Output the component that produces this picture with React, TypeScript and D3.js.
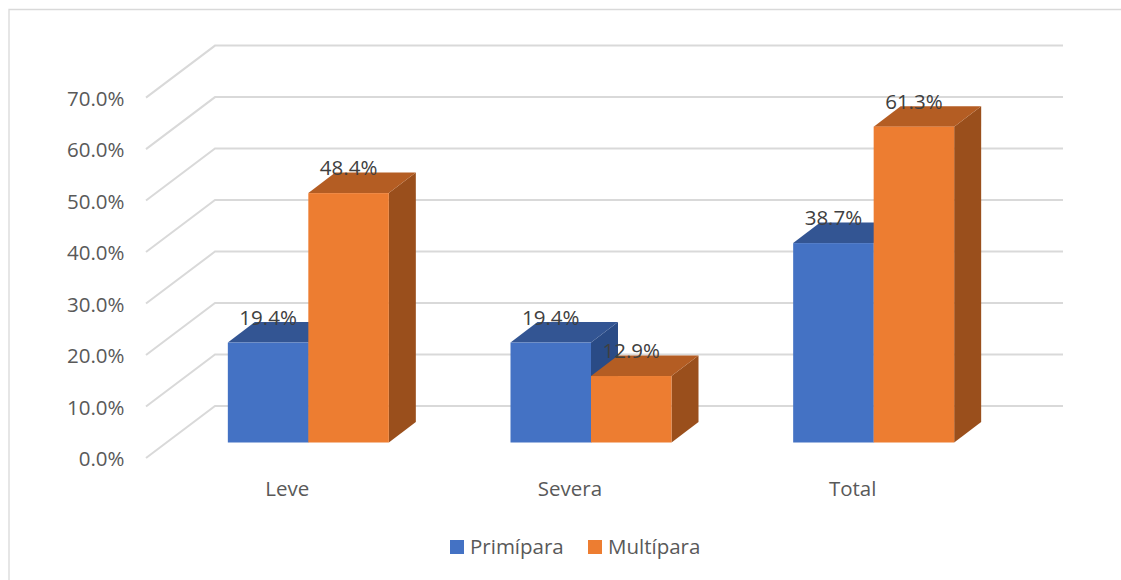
import React from "react";
import * as d3 from "d3";

const categories = ["Leve", "Severa", "Total"];
const seriesNames = ["Primípara", "Multípara"];
const primipara = [19.4, 19.4, 38.7];
const multipara = [48.4, 12.9, 61.3];
const ticks = [0, 10, 20, 30, 40, 50, 60, 70];

const colors = ["#4472C4", "#ED7D31"];
const topColors = ["#335593", "#B45D23"];
const sideColors = ["#2A4B86", "#9A4F1C"];
const FONT = "'Open Sans', sans-serif";
const FS = 20.5;

const W = 1121, H = 580;
const depth = { dx: 69, dy: 52 };
const barDepth = { dx: 27, dy: 20.5 };
const y = d3.scaleLinear().domain([0, 70]).range([458, 97.6]);
const yBar = d3.scaleLinear().domain([0, 70]).range([442.5, 81.8]);
const xFront = d3.scaleBand<string>().domain(categories).range([146, 994]);
const xBar = d3.scaleBand<string>().domain(categories).range([167, 1015]);
const groupWidth = 161;

export default function App() {
  const bw = groupWidth / 2;
  const bars = categories.flatMap((c, i) => {
    const left = xBar(c)! + (xBar.bandwidth() - groupWidth) / 2;
    return [primipara[i], multipara[i]].map((v, s) => ({ c, s, v, x0: left + s * bw }));
  });
  return (
    <svg width={W} height={H} style={{ position: "absolute", left: 0, top: 0, background: "#fff" }} fontFamily={FONT}>
      <path d={`M9,${H} V9.5 H${W}`} fill="none" stroke="#D9D9D9" strokeWidth={1.3} />
      {ticks.map((t) => (
        <g key={t}>
          <polyline
            points={`${146},${y(t)} ${146 + depth.dx},${y(t) - depth.dy} ${146 + depth.dx + 848},${y(t) - depth.dy}`}
            fill="none" stroke="#D9D9D9" strokeWidth={2}
          />
          <text x={124.5} y={y(t) + 8} textAnchor="end" fontSize={FS} fill="#595959">{t.toFixed(1)}%</text>
        </g>
      ))}
      {bars.map((b) => {
        const y0 = yBar(0), y1 = yBar(b.v);
        const x1 = b.x0 + bw;
        const { dx, dy } = barDepth;
        return (
          <g key={`${b.c}-${b.s}`}>
            <polygon points={`${x1},${y1} ${x1 + dx},${y1 - dy} ${x1 + dx},${y0 - dy} ${x1},${y0}`} fill={sideColors[b.s]} />
            <polygon points={`${b.x0},${y1} ${b.x0 + dx},${y1 - dy} ${x1 + dx},${y1 - dy} ${x1},${y1}`} fill={topColors[b.s]} />
            <rect x={b.x0} y={y1} width={bw} height={y0 - y1} fill={colors[b.s]} />
          </g>
        );
      })}
      {bars.map((b) => (
        <text key={`l-${b.c}-${b.s}`} x={b.x0 + bw / 2} y={yBar(b.v) - 18} textAnchor="middle" fontSize={FS} fill="#404040">
          {b.v.toFixed(1)}%
        </text>
      ))}
      {categories.map((c) => (
        <text key={c} x={xFront(c)! + xFront.bandwidth() / 2} y={496} textAnchor="middle" fontSize={FS} fill="#595959">{c}</text>
      ))}
      {seriesNames.map((n, i) => {
        const sx = [450, 588][i];
        return (
          <g key={n}>
            <rect x={sx} y={540} width={14} height={14} fill={colors[i]} />
            <text x={sx + 20} y={554} fontSize={FS} fill="#595959">{n}</text>
          </g>
        );
      })}
    </svg>
  );
}
